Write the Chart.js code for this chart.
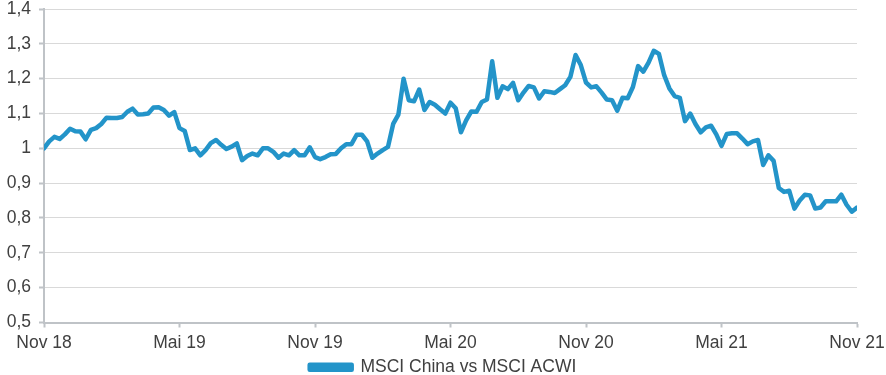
<!DOCTYPE html>
<html>
<head>
<meta charset="utf-8">
<script src="https://cdn.jsdelivr.net/npm/chart.js@4"></script>
<style>
    body { margin: 0; background: #fff; }
    #box { width: 886px; height: 375px; }
</style>
</head>
<body>
<div id="box"><canvas id="grafico_china"></canvas></div>
<script>
// MSCI China relativ zu MSCI ACWI, Wochenwerte Nov 18 - Nov 21
var rotulosX = ["Nov 18", "Mai 19", "Nov 19", "Mai 20", "Nov 20", "Mai 21", "Nov 21"];
var semanasPorRotulo = 26;
var nomeSerie = "MSCI China vs MSCI ACWI";
var valoresChina = [
    1.00, 1.02, 1.033, 1.027, 1.04, 1.056, 1.049, 1.048, 1.026, 1.053,
    1.058, 1.07, 1.088, 1.087, 1.087, 1.09, 1.105, 1.114, 1.097, 1.098,
    1.10, 1.117, 1.118, 1.11, 1.094, 1.104, 1.058, 1.05, 0.995, 1.0,
    0.98, 0.995, 1.015, 1.024, 1.01, 0.998, 1.005, 1.014, 0.966, 0.978,
    0.985, 0.98, 1.0, 1.0, 0.99, 0.973, 0.985, 0.98, 0.995, 0.98,
    0.98, 1.003, 0.975, 0.969, 0.975, 0.983, 0.984, 1.0, 1.012, 1.012,
    1.039, 1.039, 1.02, 0.973, 0.985, 0.995, 1.004, 1.07, 1.097, 1.20,
    1.138, 1.135, 1.169, 1.11, 1.133, 1.125, 1.112, 1.10, 1.131, 1.115,
    1.046, 1.08, 1.106, 1.105, 1.133, 1.14, 1.25, 1.145, 1.178, 1.17,
    1.188, 1.138, 1.16, 1.179, 1.175, 1.143, 1.164, 1.162, 1.159, 1.17,
    1.181, 1.205, 1.268, 1.239, 1.189, 1.175, 1.178, 1.16, 1.14, 1.138,
    1.108, 1.145, 1.144, 1.176, 1.236, 1.22, 1.246, 1.28, 1.271, 1.21,
    1.172, 1.15, 1.145, 1.078, 1.10, 1.07, 1.046, 1.06, 1.065, 1.04,
    1.007, 1.041, 1.043, 1.043, 1.028, 1.012, 1.02, 1.024, 0.952, 0.98,
    0.964, 0.886, 0.875, 0.878, 0.827, 0.85, 0.867, 0.865, 0.827, 0.83,
    0.848, 0.848, 0.848, 0.867, 0.838, 0.818, 0.83
];
var eixoYMin = 0.5;
var eixoYMax = 1.4;
var eixoYPasso = 0.1;

var corLinha = "#2394C9";
var corTexto = "#404040";
var fonte = { family: "'Liberation Sans', Arial, sans-serif", size: 17.5 };

var pontos = [];
for (var i = 0; i < valoresChina.length; i++) {
    pontos.push({ x: i, y: valoresChina[i] });
}

var graficoChina = new Chart(document.getElementById('grafico_china').getContext('2d'), {
    type: 'line',
    data: {
        datasets: [{
            label: nomeSerie,
            data: pontos,
            borderColor: corLinha,
            backgroundColor: corLinha,
            borderWidth: 4.5,
            pointRadius: 0,
            tension: 0,
            borderJoinStyle: 'round',
            borderCapStyle: 'round'
        }]
    },
    options: {
        responsive: true,
        maintainAspectRatio: false,
        animation: false,
        layout: { padding: { top: 9, right: 0, bottom: -11, left: 0 } },
        plugins: {
            tooltip: { enabled: false },
            legend: {
                position: 'bottom',
                labels: {
                    color: corTexto,
                    font: fonte,
                    boxWidth: 42,
                    boxHeight: 5,
                    padding: 0
                }
            }
        },
        scales: {
            x: {
                type: 'linear',
                min: 0,
                max: valoresChina.length - 1,
                ticks: {
                    stepSize: semanasPorRotulo,
                    color: corTexto,
                    font: fonte,
                    padding: 5,
                    maxRotation: 0,
                    callback: function (valor) {
                        return rotulosX[Math.round(valor / semanasPorRotulo)];
                    }
                },
                grid: {
                    drawOnChartArea: false,
                    tickLength: 5,
                    tickColor: "#BFC3C7",
                    tickWidth: 2
                },
                border: { color: "#BFC3C7", width: 2 },
                afterFit: function (escala) {
                    escala.height = 36;
                    escala.paddingRight = 29;
                    escala.paddingLeft = 0;
                }
            },
            y: {
                min: eixoYMin,
                max: eixoYMax,
                ticks: {
                    stepSize: eixoYPasso,
                    color: corTexto,
                    font: fonte,
                    padding: 8,
                    callback: function (valor) {
                        return String(Number(valor.toFixed(1))).replace('.', ',');
                    }
                },
                grid: {
                    color: "#D9D9D9",
                    lineWidth: 1,
                    tickLength: 5,
                    tickColor: "#BFC3C7",
                    tickWidth: 2
                },
                border: { color: "#BFC3C7", width: 2 },
                afterFit: function (escala) {
                    escala.width = 44;
                    escala.paddingTop = 0;
                    escala.paddingBottom = 0;
                }
            }
        }
    }
})
</script>
</body>
</html>
